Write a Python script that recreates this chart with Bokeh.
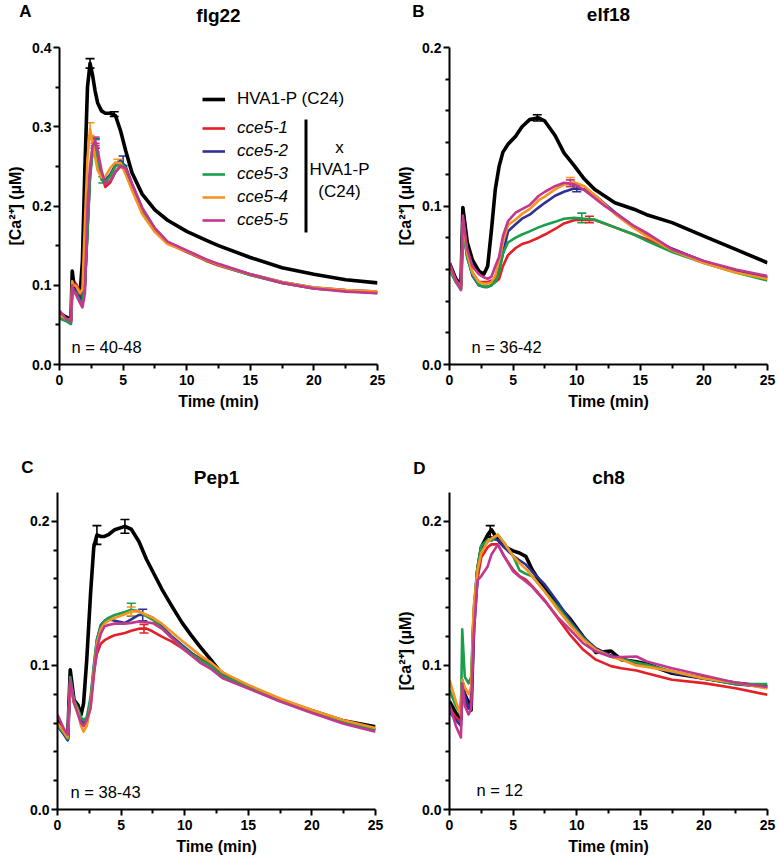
from bokeh.plotting import figure
from bokeh.layouts import column, row
from bokeh.models import (Range1d, FixedTicker, PrintfTickFormatter, Label, Legend,
                          LegendItem, BoxAnnotation, Whisker, ColumnDataSource, TeeHead)
from bokeh.embed import file_html
from bokeh.resources import INLINE

FONT = "Liberation Sans"

series_names = ["HVA1-P (C24)", "cce5-1", "cce5-2", "cce5-3", "cce5-4", "cce5-5"]
series_colors = ["#000000", "#e41f26", "#2e3192", "#1b9e4b", "#f7931e", "#c2388f"]
series_widths = [3.6, 2.6, 2.6, 2.6, 2.6, 2.6]

x_major = [0, 5, 10, 15, 20, 25]
x_minor = [2.5, 7.5, 12.5, 17.5, 22.5]

# ---------------- Panel A: flg22 ----------------
flg22_time = [0, 0.5, 0.9, 1.0, 1.1, 1.3, 1.6, 1.8, 2.0, 2.2, 2.4, 2.6, 2.8, 3.0, 3.3, 3.6,
              4.0, 4.4, 4.8, 5.2, 5.7, 6.5, 7.5, 8.5, 10, 11.5, 12.5, 15, 17.5, 20, 22.5, 25]
flg22_hva = [0.065, 0.060, 0.057, 0.118, 0.105, 0.097, 0.085, 0.130, 0.250, 0.350, 0.380, 0.365,
             0.345, 0.330, 0.320, 0.317, 0.317, 0.314, 0.295, 0.270, 0.242, 0.215, 0.195, 0.182,
             0.168, 0.157, 0.150, 0.135, 0.122, 0.114, 0.107, 0.103]
flg22_cce5_1 = [0.060, 0.057, 0.053, 0.100, 0.100, 0.102, 0.092, 0.085, 0.100, 0.170, 0.240, 0.270,
                0.280, 0.265, 0.240, 0.224, 0.230, 0.243, 0.250, 0.245, 0.225, 0.195, 0.170, 0.153,
                0.142, 0.131, 0.125, 0.113, 0.103, 0.096, 0.093, 0.091]
flg22_cce5_2 = [0.060, 0.058, 0.054, 0.098, 0.095, 0.094, 0.085, 0.080, 0.100, 0.170, 0.240, 0.272,
                0.279, 0.265, 0.238, 0.232, 0.240, 0.252, 0.257, 0.250, 0.228, 0.197, 0.171, 0.154,
                0.143, 0.132, 0.126, 0.114, 0.104, 0.097, 0.094, 0.092]
flg22_cce5_3 = [0.058, 0.055, 0.051, 0.095, 0.092, 0.090, 0.080, 0.078, 0.100, 0.165, 0.235, 0.268,
                0.276, 0.260, 0.233, 0.230, 0.238, 0.250, 0.255, 0.248, 0.226, 0.196, 0.170, 0.154,
                0.143, 0.132, 0.126, 0.113, 0.103, 0.096, 0.093, 0.090]
flg22_cce5_4 = [0.062, 0.058, 0.055, 0.105, 0.100, 0.099, 0.090, 0.095, 0.180, 0.260, 0.297, 0.280,
                0.262, 0.245, 0.236, 0.237, 0.248, 0.255, 0.254, 0.240, 0.220, 0.190, 0.167, 0.152,
                0.143, 0.132, 0.126, 0.114, 0.104, 0.097, 0.094, 0.092]
flg22_cce5_5 = [0.068, 0.058, 0.054, 0.100, 0.093, 0.088, 0.078, 0.072, 0.090, 0.200, 0.250, 0.275,
                0.283, 0.270, 0.245, 0.228, 0.232, 0.243, 0.251, 0.247, 0.228, 0.198, 0.172, 0.155,
                0.144, 0.133, 0.127, 0.114, 0.103, 0.096, 0.092, 0.090]
flg22_err_series = [0, 0, 4, 1, 2, 3, 5, 3, 2, 4]
flg22_err_time = [2.4, 4.3, 2.4, 2.8, 2.8, 2.8, 2.8, 3.4, 5.0, 4.6]
flg22_err_mean = [0.380, 0.316, 0.297, 0.280, 0.279, 0.276, 0.283, 0.233, 0.257, 0.255]
flg22_err_sem = [0.006, 0.003, 0.008, 0.004, 0.006, 0.008, 0.004, 0.004, 0.006, 0.004]

# ---------------- Panel B: elf18 ----------------
elf18_time = [0, 0.5, 0.9, 1.05, 1.4, 1.8, 2.3, 2.7, 3.0, 3.3, 3.6, 3.9, 4.2, 4.6, 5.2, 5.7,
              6.3, 7.0, 7.5, 8.3, 9.0, 9.8, 10.6, 11.4, 12.2, 13.0, 14.5, 15.5, 17.5, 20, 22.5, 25]
elf18_hva = [0.064, 0.054, 0.0505, 0.099, 0.077, 0.066, 0.059, 0.057, 0.062, 0.085, 0.1105, 0.125,
             0.134, 0.139, 0.144, 0.150, 0.1545, 0.1556, 0.1535, 0.1445, 0.1335, 0.1255, 0.117,
             0.1105, 0.1063, 0.102, 0.098, 0.0945, 0.0895, 0.081, 0.0726, 0.0642]
elf18_cce5_1 = [0.060, 0.052, 0.048, 0.085, 0.068, 0.058, 0.052, 0.052, 0.052, 0.053, 0.052, 0.054,
                0.062, 0.069, 0.0735, 0.076, 0.0775, 0.080, 0.082, 0.0855, 0.089, 0.091, 0.0915,
                0.0912, 0.089, 0.0865, 0.082, 0.079, 0.073, 0.065, 0.059, 0.055]
elf18_cce5_2 = [0.060, 0.053, 0.050, 0.090, 0.068, 0.056, 0.050, 0.049, 0.049, 0.050, 0.053, 0.060,
                0.070, 0.084, 0.0885, 0.092, 0.0945, 0.099, 0.102, 0.1065, 0.109, 0.111, 0.1105,
                0.107, 0.1015, 0.096, 0.087, 0.082, 0.073, 0.065, 0.059, 0.055]
elf18_cce5_3 = [0.060, 0.052, 0.047, 0.085, 0.067, 0.057, 0.050, 0.049, 0.049, 0.050, 0.052, 0.058,
                0.070, 0.077, 0.080, 0.082, 0.084, 0.0865, 0.088, 0.090, 0.092, 0.0925, 0.092,
                0.0915, 0.089, 0.0865, 0.082, 0.078, 0.071, 0.064, 0.058, 0.053]
elf18_cce5_4 = [0.062, 0.053, 0.048, 0.090, 0.070, 0.058, 0.052, 0.051, 0.051, 0.052, 0.056, 0.066,
                0.077, 0.088, 0.0915, 0.095, 0.098, 0.1035, 0.106, 0.1105, 0.1135, 0.115, 0.1125,
                0.107, 0.101, 0.095, 0.086, 0.081, 0.072, 0.064, 0.058, 0.054]
elf18_cce5_5 = [0.064, 0.053, 0.047, 0.094, 0.0726, 0.062, 0.057, 0.055, 0.054, 0.0555, 0.062, 0.068,
                0.081, 0.0905, 0.0958, 0.098, 0.1005, 0.1063, 0.109, 0.1125, 0.1147, 0.1137, 0.110,
                0.105, 0.100, 0.0958, 0.0874, 0.083, 0.0726, 0.0653, 0.060, 0.0558]
elf18_err_series = [0, 4, 5, 2, 3, 1]
elf18_err_time = [6.9, 9.5, 9.5, 10.0, 10.4, 11.0]
elf18_err_mean = [0.1556, 0.1150, 0.1145, 0.1110, 0.0925, 0.0915]
elf18_err_sem = [0.002, 0.003, 0.002, 0.002, 0.003, 0.002]

# ---------------- Panel C: Pep1 ----------------
pep1_time = [0, 0.5, 0.8, 1.0, 1.3, 1.6, 1.85, 2.05, 2.3, 2.6, 2.85, 3.1, 3.4, 3.7, 4.0, 4.5,
             5.3, 5.8, 6.4, 7.0, 7.5, 8.2, 9.0, 9.8, 10.5, 11.2, 12.0, 13.0, 15.0, 17.5, 20.0,
             22.5, 25.0]
pep1_hva = [0.063, 0.054, 0.049, 0.097, 0.076, 0.0726, 0.0656, 0.0737, 0.104, 0.150, 0.182, 0.1905,
            0.1895, 0.1895, 0.1907, 0.1942, 0.1965, 0.1945, 0.186, 0.1735, 0.165, 0.153, 0.141,
            0.1295, 0.121, 0.113, 0.1045, 0.0935, 0.085, 0.076, 0.0685, 0.0615, 0.0575]
pep1_cce5_1 = [0.060, 0.054, 0.050, 0.088, 0.074, 0.068, 0.062, 0.060, 0.062, 0.075, 0.095, 0.108,
               0.115, 0.1175, 0.119, 0.121, 0.1225, 0.124, 0.1255, 0.1255, 0.1235, 0.120, 0.1165,
               0.112, 0.1085, 0.105, 0.1015, 0.095, 0.085, 0.0755, 0.068, 0.061, 0.0555]
pep1_cce5_2 = [0.058, 0.052, 0.048, 0.090, 0.075, 0.068, 0.062, 0.058, 0.062, 0.075, 0.098, 0.118,
               0.128, 0.131, 0.132, 0.131, 0.1295, 0.132, 0.135, 0.135, 0.133, 0.127, 0.120, 0.114,
               0.109, 0.104, 0.100, 0.094, 0.086, 0.076, 0.0685, 0.0615, 0.0555]
pep1_cce5_3 = [0.058, 0.053, 0.049, 0.092, 0.076, 0.070, 0.064, 0.062, 0.064, 0.078, 0.100, 0.118,
               0.127, 0.131, 0.133, 0.135, 0.137, 0.1386, 0.1375, 0.134, 0.1316, 0.126, 0.119,
               0.113, 0.108, 0.104, 0.100, 0.0925, 0.085, 0.0755, 0.068, 0.0605, 0.055]
pep1_cce5_4 = [0.060, 0.054, 0.050, 0.088, 0.074, 0.068, 0.058, 0.054, 0.058, 0.072, 0.095, 0.115,
               0.125, 0.129, 0.131, 0.133, 0.1355, 0.1375, 0.1375, 0.135, 0.133, 0.129, 0.123,
               0.117, 0.112, 0.107, 0.1025, 0.095, 0.0865, 0.077, 0.069, 0.062, 0.0565]
pep1_cce5_5 = [0.066, 0.056, 0.052, 0.090, 0.074, 0.066, 0.060, 0.058, 0.062, 0.070, 0.092, 0.112,
               0.122, 0.127, 0.128, 0.129, 0.129, 0.1295, 0.1305, 0.130, 0.1293, 0.1255, 0.119,
               0.112, 0.107, 0.102, 0.098, 0.091, 0.084, 0.075, 0.067, 0.0595, 0.054]
pep1_err_series = [0, 0, 3, 4, 2, 1]
pep1_err_time = [3.1, 5.3, 5.8, 5.8, 6.7, 6.8]
pep1_err_mean = [0.1905, 0.1965, 0.1386, 0.1375, 0.1350, 0.1255]
pep1_err_sem = [0.0065, 0.0048, 0.0045, 0.0030, 0.0040, 0.0030]

# ---------------- Panel D: ch8 ----------------
ch8_time = [0, 0.5, 0.9, 1.0, 1.2, 1.5, 1.7, 1.9, 2.2, 2.5, 3.0, 3.3, 3.8, 4.3, 5.0, 5.5, 6.0,
            6.5, 7.5, 8.5, 9.5, 10.5, 11.5, 12.7, 13.5, 14.7, 15.5, 17.5, 20, 22.5, 25]
ch8_hva = [0.075, 0.067, 0.063, 0.088, 0.080, 0.074, 0.069, 0.127, 0.165, 0.182, 0.1907, 0.1942,
           0.1873, 0.1825, 0.1795, 0.178, 0.1757, 0.1664, 0.1528, 0.142, 0.132, 0.120, 0.109,
           0.110, 0.104, 0.1025, 0.101, 0.0946, 0.0911, 0.0877, 0.0853]
ch8_cce5_1 = [0.070, 0.064, 0.061, 0.082, 0.075, 0.070, 0.072, 0.130, 0.160, 0.175, 0.182, 0.184,
              0.184, 0.1757, 0.1664, 0.162, 0.1595, 0.155, 0.145, 0.133, 0.121, 0.111, 0.104,
              0.0995, 0.098, 0.0965, 0.0946, 0.090, 0.0877, 0.0842, 0.0796]
ch8_cce5_2 = [0.068, 0.062, 0.058, 0.090, 0.080, 0.070, 0.075, 0.135, 0.168, 0.180, 0.186, 0.188,
              0.187, 0.182, 0.176, 0.173, 0.170, 0.165, 0.156, 0.144, 0.131, 0.120, 0.112, 0.107,
              0.105, 0.1015, 0.1005, 0.095, 0.091, 0.087, 0.085]
ch8_cce5_3 = [0.083, 0.072, 0.066, 0.125, 0.092, 0.0876, 0.092, 0.1386, 0.1687, 0.183, 0.1873,
              0.1865, 0.1907, 0.185, 0.176, 0.166, 0.1635, 0.1618, 0.1513, 0.1409, 0.1293, 0.119,
              0.1108, 0.106, 0.1045, 0.102, 0.1005, 0.096, 0.091, 0.087, 0.087]
ch8_cce5_4 = [0.090, 0.075, 0.065, 0.090, 0.085, 0.080, 0.085, 0.140, 0.166, 0.178, 0.186, 0.188,
              0.1907, 0.185, 0.176, 0.171, 0.167, 0.162, 0.151, 0.139, 0.128, 0.118, 0.111, 0.106,
              0.104, 0.100, 0.099, 0.096, 0.091, 0.088, 0.084]
ch8_cce5_5 = [0.073, 0.058, 0.050, 0.0876, 0.072, 0.066, 0.070, 0.120, 0.159, 0.162, 0.1687, 0.177,
              0.1838, 0.1757, 0.1653, 0.1615, 0.1583, 0.1545, 0.1445, 0.1335, 0.1247, 0.1154,
              0.1096, 0.106, 0.1058, 0.1062, 0.1027, 0.098, 0.093, 0.088, 0.085]
ch8_err_series = [0]
ch8_err_time = [3.2]
ch8_err_mean = [0.193]
ch8_err_sem = [0.004]

Y_LABEL = "[Ca\u00b2\u207a] (\u00b5M)"


def make_header(letter, title, width, height, letter_xy, title_xy):
    """A strip above each panel carrying the panel letter and the stimulus title."""
    h = figure(width=width, height=height, x_range=Range1d(0, 1), y_range=Range1d(0, 1),
               output_backend="svg", toolbar_location=None,
               x_axis_location=None, y_axis_location=None, min_border=0)
    h.outline_line_color = None
    h.grid.visible = False
    h.background_fill_color = "white"
    h.border_fill_color = "white"
    h.add_layout(Label(x=letter_xy[0], y=letter_xy[1], x_units="screen", y_units="screen",
                       text=letter, text_font=FONT, text_font_size="17px",
                       text_font_style="bold", text_align="center", text_baseline="middle",
                       text_color="black"))
    h.add_layout(Label(x=title_xy[0], y=title_xy[1], x_units="screen", y_units="screen",
                       text=title, text_font=FONT, text_font_size="19px",
                       text_font_style="bold", text_align="center", text_baseline="middle",
                       text_color="black"))
    return h


def make_panel(n_text, t, series, err, y_end, y_major, y_minor, ylabel,
               width, height, borders, n_pos):
    left, right, top, bottom = borders
    p = figure(width=width, height=height, x_range=Range1d(0, 25), y_range=Range1d(0, y_end),
               output_backend="svg", toolbar_location=None,
               min_border_left=left, min_border_right=right,
               min_border_top=top, min_border_bottom=bottom)
    p.outline_line_color = None
    p.grid.visible = False
    p.background_fill_color = "white"
    p.border_fill_color = "white"

    renderers = []
    for vals, col, lw in zip(series, series_colors, series_widths):
        r = p.line(t, vals, line_color=col, line_width=lw, line_join="round")
        renderers.append(r)

    idx, et, em, es = err
    for i, tt, m, s in zip(idx, et, em, es):
        col = series_colors[i]
        src = ColumnDataSource(dict(base=[tt], upper=[m + s], lower=[m - s]))
        w = Whisker(source=src, base="base", upper="upper", lower="lower", dimension="height",
                    line_color=col, line_width=1.6,
                    upper_head=TeeHead(size=9, line_color=col, line_width=1.6),
                    lower_head=TeeHead(size=9, line_color=col, line_width=1.6))
        p.add_layout(w)

    p.xaxis.ticker = FixedTicker(ticks=x_major, minor_ticks=x_minor)
    p.yaxis.ticker = FixedTicker(ticks=y_major, minor_ticks=y_minor)
    p.xaxis.formatter = PrintfTickFormatter(format="%d")
    p.yaxis.formatter = PrintfTickFormatter(format="%.1f")
    p.xaxis.axis_label = "Time (min)"
    p.yaxis.axis_label = ylabel
    for ax in (p.xaxis[0], p.yaxis[0]):
        ax.axis_line_width = 2
        ax.axis_line_color = "black"
        ax.major_tick_line_width = 2
        ax.minor_tick_line_width = 2
        ax.major_tick_line_color = "black"
        ax.minor_tick_line_color = "black"
        ax.major_tick_out = 6
        ax.major_tick_in = 0
        ax.minor_tick_out = 4
        ax.minor_tick_in = 0
        ax.major_label_text_font = FONT
        ax.major_label_text_font_size = "14px"
        ax.major_label_text_font_style = "bold"
        ax.major_label_text_color = "black"
        ax.axis_label_text_font = FONT
        ax.axis_label_text_font_size = "16px"
        ax.axis_label_text_font_style = "bold"
        ax.axis_label_text_color = "black"
        ax.axis_label_standoff = 5
    p.xaxis.major_label_standoff = 4
    p.yaxis.major_label_standoff = 2

    p.add_layout(Label(x=n_pos[0], y=n_pos[1], x_units="screen", y_units="screen", text=n_text,
                       text_font=FONT, text_font_size="16.5px", text_align="left",
                       text_baseline="middle", text_color="black"))
    return p, renderers


minor_01 = [0.02, 0.04, 0.06, 0.08, 0.12, 0.14, 0.16, 0.18]

hA = make_header("A", "flg22", 394, 38, (25, 27), (218, 23))
hB = make_header("B", "elf18", 384, 38, (24, 27), (214, 24))
hC = make_header("C", "Pep1", 394, 76, (27, 21), (216, 11.5))
hD = make_header("D", "ch8", 384, 76, (25, 20), (214, 11.5))

pA, rA = make_panel("n = 40-48", flg22_time,
                    [flg22_hva, flg22_cce5_1, flg22_cce5_2, flg22_cce5_3, flg22_cce5_4, flg22_cce5_5],
                    (flg22_err_series, flg22_err_time, flg22_err_mean, flg22_err_sem),
                    0.4, [0, 0.1, 0.2, 0.3, 0.4], [0.05, 0.15, 0.25, 0.35], Y_LABEL,
                    394, 374, (59, 17, 9, 48), (12, 18))
pB, rB = make_panel("n = 36-42", elf18_time,
                    [elf18_hva, elf18_cce5_1, elf18_cce5_2, elf18_cce5_3, elf18_cce5_4, elf18_cce5_5],
                    (elf18_err_series, elf18_err_time, elf18_err_mean, elf18_err_sem),
                    0.2, [0, 0.1, 0.2], minor_01, Y_LABEL,
                    384, 374, (55, 11, 9, 48), (22, 17.5))
pC, rC = make_panel("n = 38-43", pep1_time,
                    [pep1_hva, pep1_cce5_1, pep1_cce5_2, pep1_cce5_3, pep1_cce5_4, pep1_cce5_5],
                    (pep1_err_series, pep1_err_time, pep1_err_mean, pep1_err_sem),
                    0.22, [0, 0.1, 0.2], minor_01, None,
                    394, 372, (57, 19, 4, 51), (13, 17.5))
pD, rD = make_panel("n = 12", ch8_time,
                    [ch8_hva, ch8_cce5_1, ch8_cce5_2, ch8_cce5_3, ch8_cce5_4, ch8_cce5_5],
                    (ch8_err_series, ch8_err_time, ch8_err_mean, ch8_err_sem),
                    0.22, [0, 0.1, 0.2], minor_01, Y_LABEL,
                    384, 372, (55, 11, 4, 51), (27, 19.5))

# Legend in panel A
leg_common = dict(border_line_color=None, background_fill_alpha=0, padding=0, margin=0,
                  label_text_font=FONT, label_text_font_size="17px", label_text_color="black",
                  glyph_width=23, glyph_height=20, label_height=20, label_standoff=12, spacing=3)
leg1 = Legend(items=[LegendItem(label=series_names[0], renderers=[rA[0]])],
              location=(143, 255), **leg_common)
leg2 = Legend(items=[LegendItem(label=series_names[i], renderers=[rA[i]]) for i in range(1, 6)],
              location=(143, 134), label_text_font_style="italic", **leg_common)
pA.add_layout(leg1)
pA.add_layout(leg2)
pA.add_layout(BoxAnnotation(left=245, right=248, bottom=132, top=245, left_units="screen",
                            right_units="screen", bottom_units="screen", top_units="screen",
                            fill_color="black", fill_alpha=1.0, line_color=None))
for txt, yy in (("x", 217), ("HVA1-P", 195), ("(C24)", 173)):
    pA.add_layout(Label(x=280, y=yy, x_units="screen", y_units="screen", text=txt,
                        text_font=FONT, text_font_size="17px", text_align="center",
                        text_baseline="middle", text_color="black"))

layout = column(row(hA, hB), row(pA, pB), row(hC, hD), row(pC, pD))
open("out.html", "w").write(file_html(layout, INLINE))
